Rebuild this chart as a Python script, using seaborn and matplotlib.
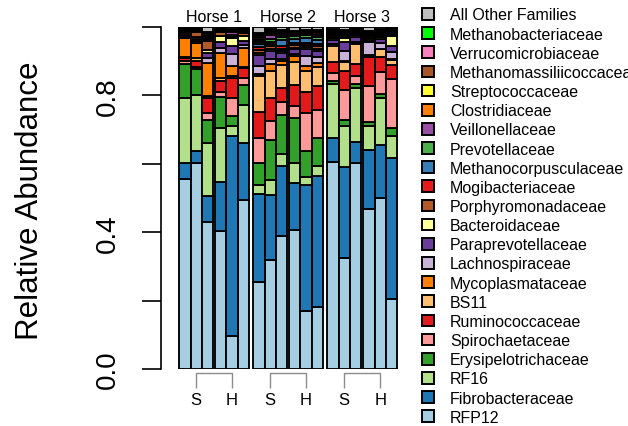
import numpy as np
import pandas as pd
import matplotlib
matplotlib.use("Agg")
import matplotlib.pyplot as plt
from matplotlib.patches import Patch
import seaborn as sns

# ---------------- data ----------------
horses = ["Horse 1", "Horse 2", "Horse 3"]
groups = ["S", "H"]
replicates = [1, 2, 3]

# families, bottom of the stack -> top
families = ["RFP12", "Fibrobacteraceae", "RF16", "Erysipelotrichaceae",
            "Spirochaetaceae", "Ruminococcaceae", "BS11", "Mycoplasmataceae",
            "Lachnospiraceae", "Paraprevotellaceae", "Bacteroidaceae",
            "Porphyromonadaceae", "Mogibacteriaceae", "Methanocorpusculaceae",
            "Prevotellaceae", "Veillonellaceae", "Clostridiaceae",
            "Streptococcaceae", "Methanomassiliicoccaceae",
            "Verrucomicrobiaceae", "Methanobacteriaceae", "All Other Families"]

# 18 samples: Horse1 S1-3, H1-3, Horse2 S1-3, H1-3, Horse3 S1-3, H1-3
RFP12 = [.556, .602, .429, .403, .097, .494, .253, .319, .390, .407, .169, .180, .604, .324, .601, .468, .499, .205]
Fibrobacteraceae = [.045, .036, .076, .145, .585, .167, .259, .191, .204, .136, .369, .385, .070, .266, .062, .173, .157, .411]
RF16 = [.191, .164, .156, .156, .029, .111, .027, .043, .035, .058, .024, .029, .159, .121, .160, .070, .136, .064]
Erysipelotrichaceae = [.100, .076, .068, .090, .028, .058, .062, .117, .115, .133, .076, .080, .010, .018, .010, .012, .012, .024]
Spirochaetaceae = [.008, .006, .020, .017, .053, .021, .073, .054, .036, .036, .110, .084, .022, .088, .023, .104, .065, .144]
Ruminococcaceae = [.008, .016, .043, .030, .059, .029, .077, .067, .043, .059, .061, .069, .032, .055, .036, .084, .042, .041]
BS11 = [.003, .008, .005, .010, .007, .004, .105, .081, .066, .068, .063, .055, .046, .026, .058, .005, .025, .015]
Mycoplasmataceae = [.057, .045, .097, .072, .029, .056, .006, .020, .012, .019, .015, .013, .002, .002, .002, .003, .001, .001]
Lachnospiraceae = [.004, .005, .016, .016, .034, .006, .025, .014, .005, .004, .029, .016, .006, .030, .005, .037, .016, .022]
Paraprevotellaceae = [.006, .008, .015, .016, .024, .012, .030, .025, .018, .015, .020, .020, .012, .027, .015, .004, .013, .016]
Bacteroidaceae = [.004, .005, .007, .018, .022, .015, .008, .006, .005, .005, .005, .006, .004, .010, .004, .003, .006, .030]
Porphyromonadaceae = [.006, .013, .028, .011, .004, .010, .008, .006, .006, .008, .006, .006, .004, .004, .003, .004, .003, .002]
Mogibacteriaceae = [.002, .003, .006, .002, .003, .002, .008, .006, .008, .005, .006, .008, .006, .004, .004, .006, .003, .002]
Methanocorpusculaceae = [.001, .001, .002, .001, .002, .001, .010, .008, .020, .012, .015, .010, .002, .002, .002, .002, .002, .002]
Prevotellaceae = [.001, .001, .002, .001, .002, .001, .005, .008, .008, .008, .008, .010, .002, .002, .002, .002, .002, .002]
Veillonellaceae = [.001, .002, .003, .002, .008, .002, .006, .012, .005, .004, .004, .005, .003, .004, .003, .003, .004, .006]
Clostridiaceae = [.001, .001, .002, .001, .002, .001, .004, .005, .004, .003, .003, .004, .002, .002, .002, .002, .002, .002]
Streptococcaceae = [.001, .001, .002, .002, .002, .002, .005, .004, .003, .003, .003, .004, .002, .002, .002, .002, .002, .002]
Methanomassiliicoccaceae = [.001, .001, .004, .002, .002, .003, .005, .003, .003, .002, .002, .003, .002, .002, .002, .002, .002, .002]
Verrucomicrobiaceae = [.001, .001, .002, .001, .002, .001, .003, .003, .002, .002, .002, .003, .002, .002, .001, .002, .002, .002]
Methanobacteriaceae = [.001, .001, .001, .001, .001, .001, .003, .002, .002, .002, .002, .002, .001, .001, .001, .001, .001, .001]
All_Other_Families = [.002, .004, .016, .003, .005, .003, .018, .006, .010, .011, .008, .008, .007, .008, .002, .011, .005, .004]

series = [RFP12, Fibrobacteraceae, RF16, Erysipelotrichaceae, Spirochaetaceae,
          Ruminococcaceae, BS11, Mycoplasmataceae, Lachnospiraceae,
          Paraprevotellaceae, Bacteroidaceae, Porphyromonadaceae,
          Mogibacteriaceae, Methanocorpusculaceae, Prevotellaceae,
          Veillonellaceae, Clostridiaceae, Streptococcaceae,
          Methanomassiliicoccaceae, Verrucomicrobiaceae, Methanobacteriaceae,
          All_Other_Families]

# ---------------- layout ----------------
GROUP_GAP = 0.2
HORSE_GAP = 0.4
n_rep = len(replicates)
horse_stride = 2 * n_rep + GROUP_GAP + HORSE_GAP
lefts = [h * horse_stride + g * (n_rep + GROUP_GAP) + r
         for h in range(len(horses)) for g in range(len(groups)) for r in range(n_rep)]
centers = [l + 0.5 for l in lefts]
edges = sorted(set(lefts + [l + 1 for l in lefts]))

rows = []
for fam, vals in zip(families, series):
    for c, v in zip(centers, vals):
        rows.append({"pos": c, "family": fam, "value": v})
df = pd.DataFrame(rows)

colors = (list(sns.color_palette("Paired", 12)) + list(sns.color_palette("Set1", 8))
          + ["#00ff00", "#bebebe"])
palette = dict(zip(families, colors))

sns.set_style("ticks")
plt.rcParams["font.family"] = ["Liberation Sans", "DejaVu Sans"]
plt.rcParams["text.color"] = "black"
plt.rcParams["xtick.color"] = "black"
plt.rcParams["ytick.color"] = "black"
plt.rcParams["axes.labelcolor"] = "black"

W, H = 628, 427
fig = plt.figure(figsize=(W / 100, H / 100), dpi=100)
ax = fig.add_axes([161 / W, (H - 370) / H, (400 - 161) / W, 342 / H])

sns.histplot(data=df, x="pos", weights="value", hue="family",
             hue_order=families[::-1], multiple="stack", bins=edges,
             palette=palette, alpha=1, edgecolor="black", linewidth=1.35,
             legend=False, ax=ax)

for p in ax.patches:
    if p.get_height() == 0:
        p.set_visible(False)

ax.set_xlim(-1.63, 19.67)
ax.set_ylim(0, 1)
ax.set_xlabel("")
ax.set_ylabel("")

for s in ["top", "right", "bottom"]:
    ax.spines[s].set_visible(False)
ax.spines["left"].set_linewidth(1.2)
ax.spines["left"].set_color("black")
ax.spines["bottom"].set_position(("outward", 2.9))

# y axis
ax.set_yticks([0, .2, .4, .6, .8, 1.0], labels=["0.0", "", "0.4", "", "0.8", ""])
ax.tick_params(axis="y", length=13.7, width=1.2, color="black", labelsize=20,
               pad=15, labelcolor="black")
for lbl in ax.get_yticklabels():
    lbl.set_rotation(90)
    lbl.set_va("center")

# x axis: S / H ticks per horse
group_centers = [h * horse_stride + g * (n_rep + GROUP_GAP) + n_rep / 2
                 for h in range(len(horses)) for g in range(len(groups))]
ax.set_xticks(group_centers, labels=groups * len(horses))
ax.tick_params(axis="x", length=10.5, width=1, color="#8c8c8c", labelsize=12,
               pad=3.5, labelcolor="black")
for h in range(len(horses)):
    x0 = group_centers[2 * h]
    x1 = group_centers[2 * h + 1]
    ax.plot([x0, x1], [-4 / 342, -4 / 342], color="#8c8c8c", lw=1,
            transform=ax.get_xaxis_transform(), clip_on=False)

# horse titles
for h, name in enumerate(horses):
    xc = h * horse_stride + (2 * n_rep + GROUP_GAP) / 2
    ax.text(xc, (370 - 17) / 342, name, ha="center", va="center", fontsize=11.5,
            color="black", transform=ax.get_xaxis_transform())

fig.text(30 / W, 1 - 201 / H, "Relative Abundance", rotation=90, ha="center",
         va="center", fontsize=22.5, color="black")

# legend
handles = [Patch(facecolor=palette[f], edgecolor="black", linewidth=1.4)
           for f in families[::-1]]
fig.legend(handles, families[::-1], loc="upper left",
           bbox_to_anchor=(422 / W, 1 - 8.5 / H), frameon=False, fontsize=11.5,
           handlelength=0.75, handleheight=0.75, handletextpad=1.0,
           labelspacing=0.26, borderpad=0, borderaxespad=0, labelcolor="black")

fig.savefig("out.png", dpi=100)
